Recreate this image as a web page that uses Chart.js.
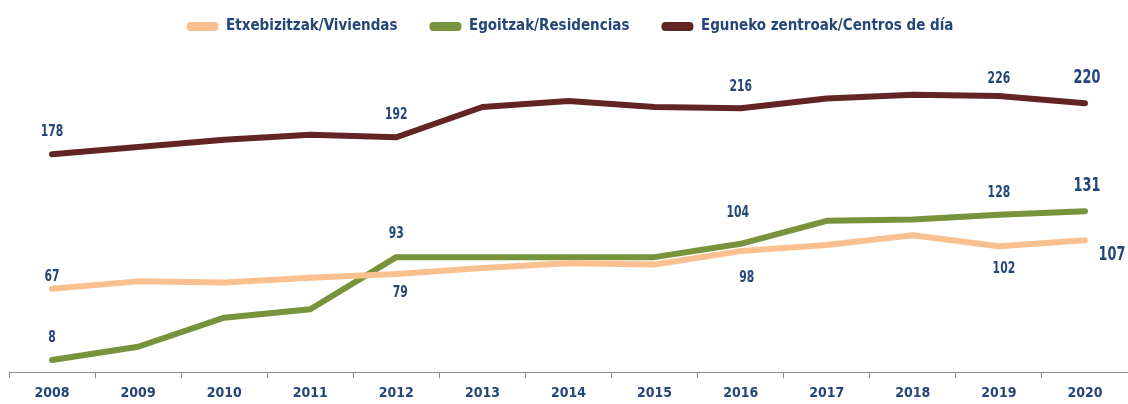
<!DOCTYPE html>
<html>
<head>
<meta charset="utf-8">
<script src="https://cdn.jsdelivr.net/npm/chart.js@4.4.0/dist/chart.umd.min.js"></script>
<style>
  html, body { margin: 0; padding: 0; background: #fff; }
</style>
</head>
<body>
<canvas id="g_evol" width="1128" height="404"></canvas>
<script>
// categories
const years = ['2008', '2009', '2010', '2011', '2012', '2013', '2014', '2015', '2016', '2017', '2018', '2019', '2020'];
// series values
const viviendas = [67, 73, 72, 76, 79, 84, 88, 87, 98, 103, 111, 102, 107];
const residencias = [8, 19, 43, 50, 93, 93, 93, 93, 104, 123, 124, 128, 131];
const centros = [178, 184, 190, 194, 192, 217, 222, 217, 216, 224, 227, 226, 220];
// points that carry a value label
const labelIdx = [0, 4, 8, 11, 12];

const textColor = '#244678';
const fontFam = '"Liberation Sans Narrow", "DejaVu Sans Condensed", sans-serif';

// where each value label sits relative to its point (px)
const labelPos = [
    { dx: [0, 4, 6, 5, 27], dy: [-12, 19, 27, 23, 15] },
    { dx: [0, 0, -3, 0, 2], dy: [-22, -23, -31, -22, -25] },
    { dx: [0, 0, 0, 0, 2], dy: [-22, -22, -21, -17, -25] }
];

//plugin qui écrit les étiquettes de valeurs (texte un peu resserré)
const valueLabels = {
    id: 'valueLabels',
    afterDatasetsDraw(chart) {
        const ctx = chart.ctx;
        chart.data.datasets.forEach((ds, d) => {
            const meta = chart.getDatasetMeta(d);
            labelIdx.forEach((idx, k) => {
                const pt = meta.data[idx];
                const last = idx === years.length - 1;
                ctx.save();
                ctx.fillStyle = textColor;
                ctx.textAlign = 'center';
                ctx.textBaseline = 'middle';
                ctx.font = 'bold ' + (last ? 19 : 15) + 'px ' + fontFam;
                ctx.translate(pt.x + labelPos[d].dx[k], pt.y + labelPos[d].dy[k]);
                ctx.scale(last ? 0.75 : 0.8, 1);
                ctx.fillText(ds.data[idx], 0, 0);
                ctx.restore();
            });
        });
    }
};

function serie(label, data, color) {
    return {
        label: label,
        data: data,
        borderColor: color,
        backgroundColor: color,
        borderWidth: 6,
        borderCapStyle: 'round',
        borderJoinStyle: 'round',
        pointRadius: 0,
        tension: 0,
        fill: false
    };
}

let context = document.getElementById('g_evol').getContext('2d');
new Chart(context, {
    type: 'line',
    data: {
        labels: years,
        datasets: [
            serie('Etxebizitzak/Viviendas', viviendas, '#FAC090'),
            serie('Egoitzak/Residencias', residencias, '#77933C'),
            serie('Eguneko zentroak/Centros de día', centros, '#632523')
        ]
    },
    options: {
        responsive: false,
        animation: false,
        devicePixelRatio: 1,
        layout: { padding: { left: 9, right: -3, top: -13, bottom: -5 } },
        plugins: {
            legend: {
                position: 'top',
                labels: {
                    color: textColor,
                    font: { family: fontFam, size: 15, weight: 'bold' },
                    boxWidth: 32,
                    boxHeight: 9,
                    useBorderRadius: true,
                    borderRadius: 4,
                    padding: 32,
                    generateLabels: (chart) => Chart.defaults.plugins.legend.labels.generateLabels(chart)
                        .map(l => Object.assign(l, { lineWidth: 0 }))
                }
            },
            tooltip: { enabled: false },
            title: { display: false }
        },
        scales: {
            x: {
                offset: true,
                grid: {
                    offset: true,
                    drawOnChartArea: false,
                    drawTicks: true,
                    tickLength: 6,
                    color: '#8c8c8c'
                },
                border: { display: true, color: '#8c8c8c', width: 1 },
                ticks: {
                    color: textColor,
                    padding: 7,
                    font: { family: fontFam, size: 14, weight: 'bold' }
                }
            },
            y: {
                display: false,
                min: -2,
                max: 269
            }
        }
    },
    plugins: [valueLabels]
});
</script>
</body>
</html>
